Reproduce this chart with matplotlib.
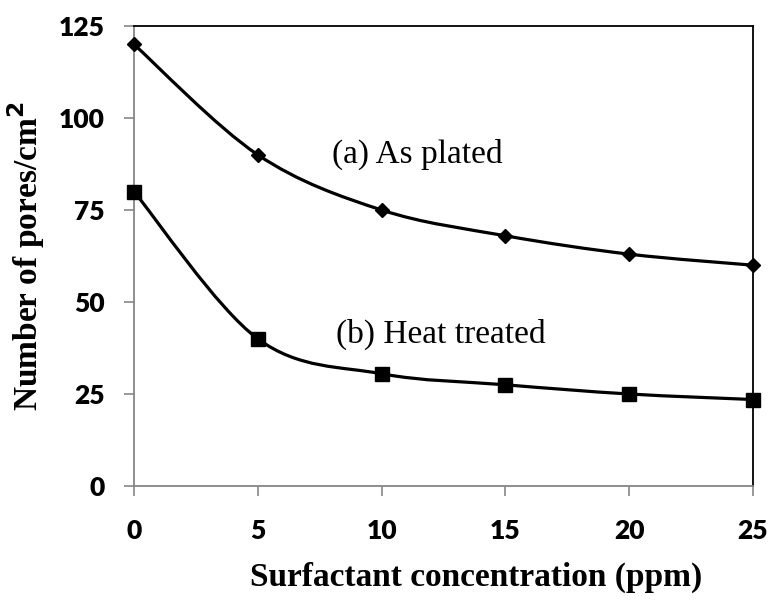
'''
number of pores per cm^2 against surfactant concentration, as plated and heat treated
'''
## Imports
import numpy as np
import matplotlib
matplotlib.use("Agg")
import matplotlib.pyplot as plt
from matplotlib.path import Path
from matplotlib.patches import PathPatch

## data
conc = [0, 5, 10, 15, 20, 25]
as_plated = [120, 90, 75, 68, 63, 60]
heat_treated = [80, 40, 30.5, 27.5, 25, 23.5]
x_ticks = [0, 5, 10, 15, 20, 25]
y_ticks = [0, 25, 50, 75, 100, 125]

GRAY = "#868686"

def smooth_path(x:list, y:list) -> Path:
    '''
    builds a bezier path through the points, like the smoothed line of a spreadsheet chart
    Parameters:
        - x, y: point coordinates [List]
    Returns:
        - path: path with cubic segments [Path]
    '''
    pts = np.column_stack([x, y]).astype(float)
    n = len(pts)
    verts = [pts[0]]
    codes = [Path.MOVETO]
    for i in range(n - 1):
        p_prev = pts[max(i - 1, 0)]
        p0 = pts[i]
        p1 = pts[i + 1]
        p_next = pts[min(i + 2, n - 1)]
        c1 = p0 + (p1 - p_prev) / 6
        c2 = p1 - (p_next - p0) / 6
        verts += [c1, c2, p1]
        codes += [Path.CURVE4] * 3
    return Path(verts, codes)

def main() -> None:
    fig = plt.figure(figsize=(7.69, 6.02), dpi=100)
    ax = fig.add_axes([134 / 769, 1 - 486 / 602, 619 / 769, 460 / 602])

    ## smoothed lines and markers
    for ys, marker, ms in [(as_plated, "D", 7), (heat_treated, "s", 10)]:
        patch = PathPatch(smooth_path(conc, ys), facecolor="none", edgecolor="black",
                          lw=2.3, clip_on=False, zorder=3)
        ax.add_patch(patch)
        ax.plot(conc, ys, linestyle="none", marker=marker, ms=ms, color="black",
                clip_on=False, zorder=4)

    ## annotations
    ax.text(8.0, 87.8, "(a) As plated", fontsize=24, family="Liberation Serif",
            ha="left", va="baseline")
    ax.text(8.15, 38.9, "(b) Heat treated", fontsize=24, family="Liberation Serif",
            ha="left", va="baseline")

    ## axes
    ax.set_xlim(0, 25)
    ax.set_ylim(0, 125)
    ax.set_xticks(x_ticks)
    ax.set_yticks(y_ticks)
    ax.tick_params(direction="out", length=7, width=1.2, color=GRAY,
                   labelsize=19)
    ax.tick_params(axis="x", pad=17)
    ax.tick_params(axis="y", pad=14)
    for lab in ax.get_xticklabels() + ax.get_yticklabels():
        lab.set_family("Lato")
        lab.set_fontweight("heavy")
    for side in ["left", "bottom"]:
        ax.spines[side].set_color(GRAY)
        ax.spines[side].set_linewidth(1.3)
    for side in ["top", "right"]:
        ax.spines[side].set_color("black")
        ax.spines[side].set_linewidth(1.3)

    ax.set_xlabel("Surfactant concentration (ppm)", fontsize=24,
                  family="Liberation Serif", fontweight="bold")
    ax.set_ylabel(r"Number of pores/cm$^\mathbf{2}$", fontsize=24,
                  family="Liberation Serif", fontweight="bold")
    ax.xaxis.set_label_coords(0.553, -0.198)
    ax.xaxis.label.set_va("center")
    ax.yaxis.set_label_coords(-0.1745, 0.5)
    ax.yaxis.label.set_va("center")

    fig.savefig("out.png", dpi=100)

if __name__ == "__main__":
    main()
